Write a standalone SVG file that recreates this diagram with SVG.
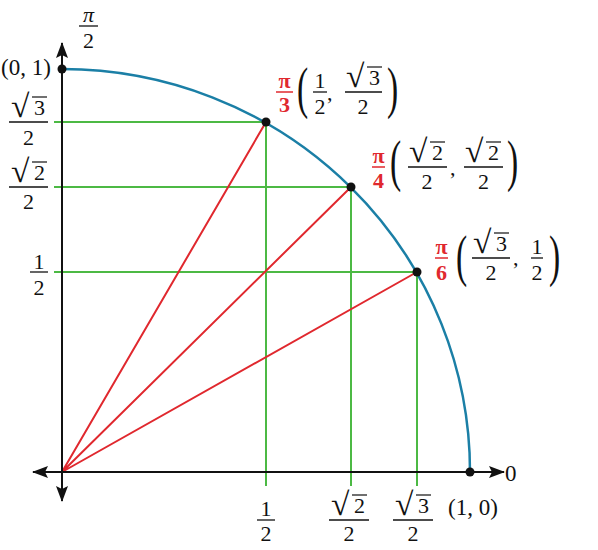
<svg xmlns="http://www.w3.org/2000/svg" width="598" height="550" viewBox="0 0 598 550">
<style>
text{font-family:"Liberation Serif","Times New Roman",serif;font-size:22px;fill:#111}
.m{text-anchor:middle}
.c{font-size:23px}
.rt{font-size:24px}
.r{fill:#e0282e;font-weight:bold}
.it{font-style:italic}
.fl{stroke:#111;stroke-width:1.3}
.vl{stroke:#111;stroke-width:1.2}
.rl{stroke:#e0282e;stroke-width:1.5}
.ax{stroke:#111;stroke-width:2;fill:none}
.gr{stroke:#4cb944;stroke-width:2;fill:none}
.rd{stroke:#e0282e;stroke-width:2;fill:none}
.bl{stroke:#1b7fa6;stroke-width:2.5;fill:none}
.dot{fill:#111}
.pa{font-size:56px}
</style>
<defs>
<marker id="ah" viewBox="0 0 16 12" refX="15" refY="6" markerWidth="16" markerHeight="12" markerUnits="userSpaceOnUse" orient="auto">
<path d="M0,0 L16,6 L0,12 L3,6 z" fill="#111"/>
</marker>
</defs>
<g id="connectors">
<path class="gr" d="M54,122 H266 M54,187 H351 M54,272 H417 M266,122 V486 M351,187 V486 M417,272 V486"/>
<path class="rd" d="M62,472 L266,122 M62,472 L351,187 M62,472 L417,272"/>
<path class="bl" d="M62,69 A408,403 0 0 1 470,472"/>
<line class="ax" x1="62" y1="472" x2="62" y2="43" marker-end="url(#ah)"/>
<line class="ax" x1="62" y1="472" x2="62" y2="501" marker-end="url(#ah)"/>
<line class="ax" x1="62" y1="472" x2="33" y2="472" marker-end="url(#ah)"/>
<line class="ax" x1="62" y1="472" x2="504" y2="472" marker-end="url(#ah)"/>
</g>
<g id="points">
<circle class="dot" cx="62" cy="69" r="4.5"/>
<circle class="dot" cx="266" cy="122" r="4.5"/>
<circle class="dot" cx="351" cy="187" r="4.5"/>
<circle class="dot" cx="417" cy="272" r="4.5"/>
<circle class="dot" cx="470" cy="472" r="4.5"/>
</g>
<g id="axis-labels">
<text class="m it" x="88.5" y="22">π</text><line class="fl" x1="79" y1="26" x2="98" y2="26"/><text class="m" x="88.5" y="48">2</text>
<text class="c" x="1" y="75">(0, 1)</text>
<text class="c" x="448" y="515">(1, 0)</text>
<text class="c" x="505" y="481">0</text>
</g>
<g id="left-labels">
<text class="rt" transform="translate(11,117) scale(1.4,1.35)">√</text><text x="34" y="115">3</text><line class="vl" x1="32" y1="97" x2="47" y2="97"/>
<line class="fl" x1="9" y1="122" x2="48" y2="122"/><text class="m" x="28.5" y="145">2</text>
<text class="rt" transform="translate(11,182) scale(1.4,1.35)">√</text><text x="34" y="180">2</text><line class="vl" x1="32" y1="162" x2="47" y2="162"/>
<line class="fl" x1="9" y1="187" x2="48" y2="187"/><text class="m" x="28.5" y="209">2</text>
<text class="m" x="39" y="269">1</text><line class="fl" x1="30" y1="272" x2="48" y2="272"/><text class="m" x="39" y="295">2</text>
</g>
<g id="bottom-labels">
<text class="m" x="266" y="516">1</text><line class="fl" x1="257" y1="520" x2="275" y2="520"/><text class="m" x="266" y="541">2</text>
<text class="rt" transform="translate(331,515) scale(1.4,1.35)">√</text><text x="354" y="513">2</text><line class="vl" x1="352" y1="495" x2="367" y2="495"/>
<line class="fl" x1="329" y1="520" x2="369" y2="520"/><text class="m" x="349" y="541">2</text>
<text class="rt" transform="translate(395,515) scale(1.4,1.35)">√</text><text x="418" y="513">3</text><line class="vl" x1="416" y1="495" x2="431" y2="495"/>
<line class="fl" x1="393" y1="520" x2="433" y2="520"/><text class="m" x="413" y="541">2</text>
</g>
<g id="label-pi3">
<text class="m r" x="284.5" y="88">π</text><line class="rl" x1="276" y1="92" x2="293" y2="92"/><text class="m r" x="284.5" y="112">3</text>
<text class="pa" transform="translate(297,107) scale(0.6,1)">(</text>
<text class="m" x="320" y="88">1</text><line class="fl" x1="313" y1="92" x2="327" y2="92"/><text class="m" x="320" y="114">2</text>
<text x="327" y="100">,</text>
<text class="rt" transform="translate(346,87) scale(1.4,1.35)">√</text><text x="369" y="85">3</text><line class="vl" x1="367" y1="67" x2="382" y2="67"/>
<line class="fl" x1="345" y1="92" x2="382" y2="92"/><text class="m" x="363" y="114">2</text>
<text class="pa" transform="translate(387,107) scale(0.6,1)">)</text>
</g>
<g id="label-pi4">
<text class="m r" x="378.5" y="163">π</text><line class="rl" x1="372" y1="167" x2="385" y2="167"/><text class="m r" x="378.5" y="188">4</text>
<text class="pa" transform="translate(390,180) scale(0.6,1)">(</text>
<text class="rt" transform="translate(409,162) scale(1.4,1.35)">√</text><text x="432" y="160">2</text><line class="vl" x1="430" y1="142" x2="445" y2="142"/>
<line class="fl" x1="408" y1="167" x2="447" y2="167"/><text class="m" x="427" y="189">2</text>
<text x="450" y="175">,</text>
<text class="rt" transform="translate(465,162) scale(1.4,1.35)">√</text><text x="488" y="160">2</text><line class="vl" x1="486" y1="142" x2="501" y2="142"/>
<line class="fl" x1="464" y1="167" x2="503" y2="167"/><text class="m" x="483.5" y="189">2</text>
<text class="pa" transform="translate(507,180) scale(0.6,1)">)</text>
</g>
<g id="label-pi6">
<text class="m r" x="441.5" y="254">π</text><line class="rl" x1="435" y1="258" x2="448" y2="258"/><text class="m r" x="441.5" y="280">6</text>
<text class="pa" transform="translate(456,275) scale(0.6,1)">(</text>
<text class="rt" transform="translate(473,253) scale(1.4,1.35)">√</text><text x="496" y="251">3</text><line class="vl" x1="494" y1="233" x2="509" y2="233"/>
<line class="fl" x1="472" y1="258" x2="510" y2="258"/><text class="m" x="491" y="280">2</text>
<text x="513" y="265">,</text>
<text class="m" x="537" y="254">1</text><line class="fl" x1="531" y1="258" x2="543" y2="258"/><text class="m" x="537" y="280">2</text>
<text class="pa" transform="translate(549,275) scale(0.6,1)">)</text>
</g>
</svg>
